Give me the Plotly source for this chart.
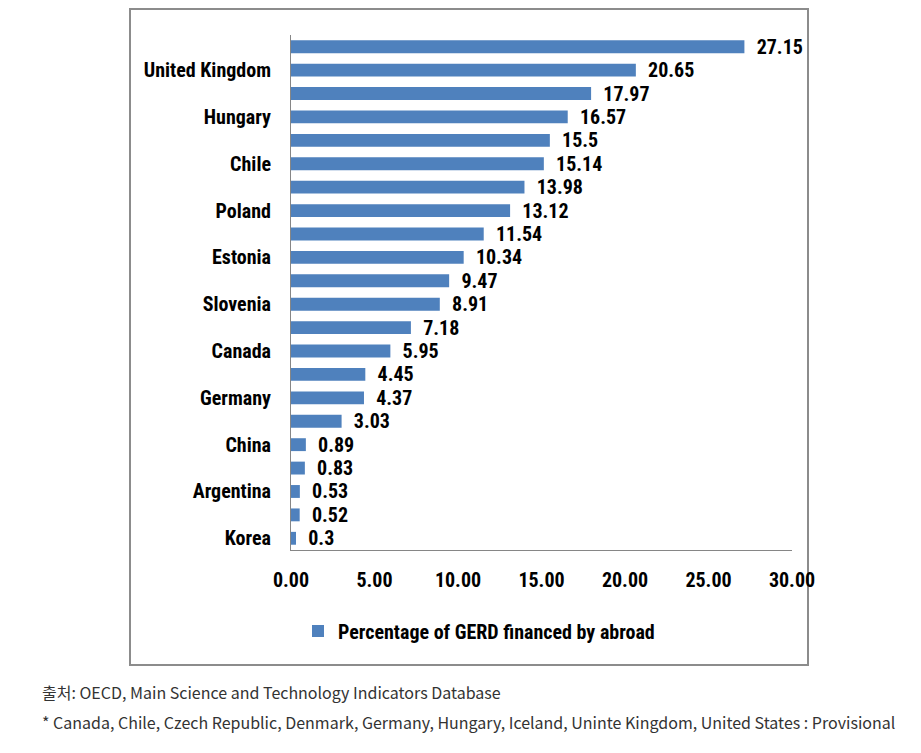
import plotly.graph_objects as go

countries = ["Czech Republic", "United Kingdom", "Slovak Republic", "Hungary", "Austria", "Chile",
             "Iceland", "Poland", "Netherlands", "Estonia", "Denmark", "Slovenia", "Norway", "Canada",
             "France", "Germany", "United States", "China", "Japan", "Argentina", "Russia", "Korea"]
values = [27.15, 20.65, 17.97, 16.57, 15.5, 15.14, 13.98, 13.12, 11.54, 10.34, 9.47, 8.91, 7.18, 5.95,
          4.45, 4.37, 3.03, 0.89, 0.83, 0.53, 0.52, 0.3]
shown_labels = ["United Kingdom", "Hungary", "Chile", "Poland", "Estonia", "Slovenia", "Canada",
                "Germany", "China", "Argentina", "Korea"]
x_ticks = [0, 5, 10, 15, 20, 25, 30]
series_name = "Percentage of GERD financed by abroad"
source_text = "출처: OECD, Main Science and Technology Indicators Database"
note_text = "* Canada, Chile, Czech Republic, Denmark, Germany, Hungary, Iceland, Uninte Kingdom, United States : Provisional"

FONT = "Liberation Sans Narrow, Roboto Condensed, Arial Narrow, sans-serif"
FS = 20

# page body has an 8px margin: convert reference-pixel coords to figure coords
OFF = 8
W, H = 921 - 2 * OFF, 753 - 2 * OFF
L = 291 - OFF
R = W - (792 - OFF)
T = 35 - OFF
B = H - (550 - OFF)
pw, ph = W - L - R, H - T - B

def px(x):
    return (x - OFF - L) / pw

def py(y):
    return (H - B - (y - OFF)) / ph

fig = go.Figure()
fig.add_trace(go.Bar(
    x=values, y=countries, orientation="h", name=series_name,
    marker=dict(color="#4F81BD", line=dict(width=0)),
    text=[str(v) for v in values], texttemplate="\u00a0\u00a0%{text}",
    textposition="outside", cliponaxis=False, constraintext="none",
    textfont=dict(family=FONT, size=FS, color="#000000", weight="bold"),
    showlegend=True,
))

fig.update_layout(
    width=W, height=H,
    margin=dict(l=L, r=R, t=T, b=B),
    paper_bgcolor="white", plot_bgcolor="white",
    bargap=0.45,
    font=dict(family=FONT, size=FS, color="#000000"),
    xaxis=dict(range=[0, 30], tickvals=x_ticks, ticktext=[f"{v:.2f}" for v in x_ticks],
               showgrid=False, zeroline=False, showline=True, linecolor="#868686", linewidth=1,
               ticks="", ticklabelstandoff=12,
               tickfont=dict(family=FONT, size=FS, color="#000000", weight="bold")),
    yaxis=dict(categoryorder="array", categoryarray=countries, autorange="reversed",
               tickvals=shown_labels, showgrid=False, zeroline=False, showline=True,
               linecolor="#868686", linewidth=1, ticks="", ticklabelstandoff=15,
               tickfont=dict(family=FONT, size=FS, color="#000000", weight="bold")),
    legend=dict(orientation="h", x=px(298), y=py(631), xanchor="left", yanchor="middle",
                font=dict(family=FONT, size=FS, color="#000000", weight="bold"),
                bgcolor="rgba(0,0,0,0)", itemwidth=30),
)

fig.add_shape(type="rect", xref="paper", yref="paper",
              x0=px(130), x1=px(808), y0=py(665), y1=py(9),
              line=dict(color="#8c8c8c", width=2), fillcolor="rgba(0,0,0,0)", layer="below")

fig.add_annotation(text=source_text, xref="paper", yref="paper", x=px(40), y=py(692),
                   xanchor="left", yanchor="middle", showarrow=False,
                   font=dict(family="Noto Sans CJK KR", size=16, color="#333333"))
fig.add_annotation(text=note_text, xref="paper", yref="paper", x=px(40), y=py(722),
                   xanchor="left", yanchor="middle", showarrow=False,
                   font=dict(family="Noto Sans CJK KR", size=16, color="#333333"))

fig.write_html("out.html")
